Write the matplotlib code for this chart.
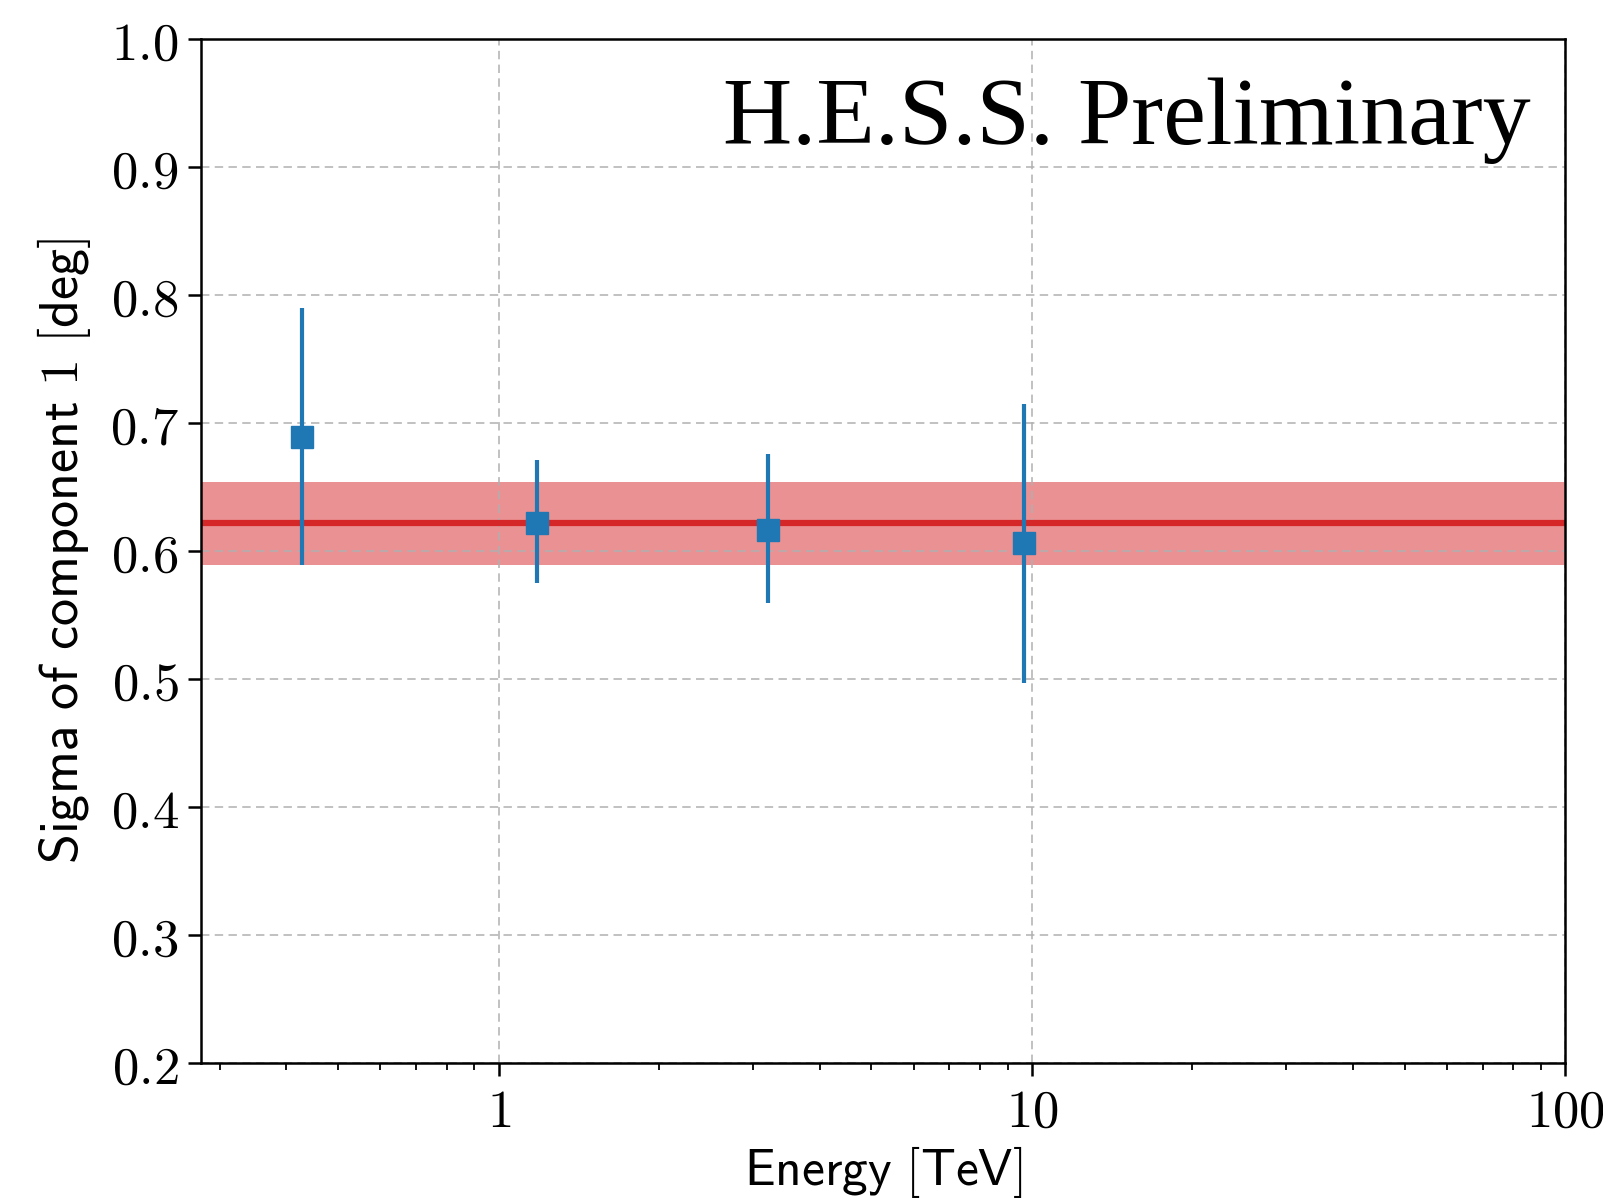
import matplotlib.pyplot as plt
from matplotlib.ticker import FixedLocator, FuncFormatter

plt.rcParams['mathtext.fontset'] = 'cm'

# Data
energy = [0.427, 1.18, 3.2, 9.66]
sigma = [0.689, 0.622, 0.616, 0.606]
err_low = [0.100, 0.047, 0.057, 0.109]
err_high = [0.101, 0.049, 0.060, 0.109]

fit_value = 0.622
fit_low = 0.589
fit_high = 0.654

x_min, x_max = 0.277, 100
y_min, y_max = 0.2, 1.0
y_ticks = [0.2, 0.3, 0.4, 0.5, 0.6, 0.7, 0.8, 0.9, 1.0]
x_ticks = [1, 10, 100]

fig = plt.figure(figsize=(16.03, 12.02), dpi=100)
ax = fig.add_axes([0.1256, 0.1156, 0.8508, 0.8521])

ax.axhspan(fit_low, fit_high, color='tab:red', alpha=0.5, lw=0, zorder=1)
ax.axhline(fit_value, color='tab:red', lw=4.5, zorder=2)

ax.errorbar(energy, sigma, yerr=[err_low, err_high], fmt='s', color='tab:blue',
            markersize=16.5, elinewidth=3.0, capsize=0, zorder=3)

ax.set_xscale('log')
ax.set_xlim(x_min, x_max)
ax.set_ylim(y_min, y_max)

ax.xaxis.set_major_locator(FixedLocator(x_ticks))
ax.xaxis.set_major_formatter(FuncFormatter(lambda v, p: r'$%d$' % v))
ax.set_yticks(y_ticks)
ax.yaxis.set_major_formatter(FuncFormatter(lambda v, p: r'$%.1f$' % v))

ax.grid(True, which='major', color='#b0b0b0', lw=1.1, ls=(0, (5.5, 3.5)), zorder=0)

ax.tick_params(axis='both', which='major', length=9.5, width=1.8, labelsize=38, pad=7)
ax.tick_params(axis='x', which='minor', length=5, width=1.3)
for s in ax.spines.values():
    s.set_linewidth(1.8)

ax.set_xlabel(r'$\mathsf{Energy\ [TeV]}$', fontsize=37, labelpad=4)
ax.set_ylabel(r'$\mathsf{Sigma\ of\ component\ 1\ [deg]}$', fontsize=39, labelpad=12)

ax.text(0.975, 0.92, 'H.E.S.S. Preliminary', transform=ax.transAxes,
        ha='right', va='center', fontsize=69, family='Liberation Serif')

fig.savefig('out.png', dpi=100)
